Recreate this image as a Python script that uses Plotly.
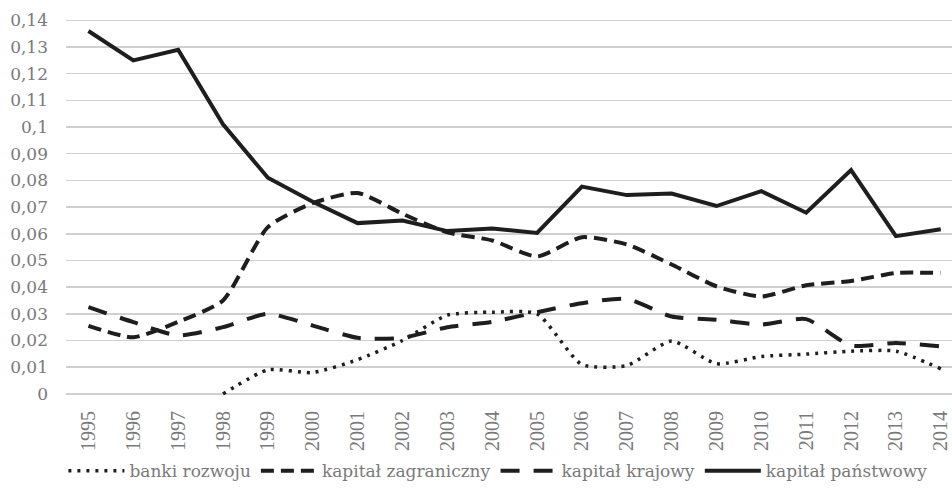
import plotly.graph_objects as go

years = [str(y) for y in range(1995, 2015)]

banki_rozwoju = [None, None, None, 0.0, 0.009, 0.008, 0.0128, 0.020, 0.0295, 0.0306,
                 0.030, 0.011, 0.0106, 0.0198, 0.0113, 0.014, 0.0149, 0.016, 0.016, 0.0094]
kapital_zagraniczny = [0.0255, 0.0212, 0.027, 0.035, 0.0625, 0.0715, 0.0753, 0.0675, 0.0605, 0.0575,
                       0.0515, 0.0587, 0.056, 0.0485, 0.0403, 0.0365, 0.0407, 0.0423, 0.0453, 0.0453]
kapital_krajowy = [0.0325, 0.0269, 0.0219, 0.025, 0.030, 0.0256, 0.021, 0.021, 0.025, 0.027,
                   0.0306, 0.034, 0.0356, 0.029, 0.0278, 0.026, 0.028, 0.0181, 0.0191, 0.0178]
kapital_panstwowy = [0.136, 0.125, 0.129, 0.101, 0.081, 0.072, 0.064, 0.065, 0.061, 0.062,
                     0.0603, 0.0777, 0.0745, 0.0751, 0.0704, 0.076, 0.0679, 0.0839, 0.0591, 0.0617]

y_ticks = [i / 100 for i in range(0, 15)]
y_labels = ["0", "0,01", "0,02", "0,03", "0,04", "0,05", "0,06", "0,07", "0,08", "0,09",
            "0,1", "0,11", "0,12", "0,13", "0,14"]

x_idx = list(range(len(years)))
LINE = "#1e1e1e"
TEXT = "#7a7a7a"
WIDE = "'DejaVu Serif', serif"
TIMES = "'Liberation Serif', 'Times New Roman', serif"

fig = go.Figure()
fig.add_trace(go.Scatter(x=x_idx, y=banki_rozwoju, name="banki rozwoju", mode="lines",
                         line=dict(color=LINE, width=3.5, dash="3px,6px", shape="spline", smoothing=0.6)))
fig.add_trace(go.Scatter(x=x_idx, y=kapital_zagraniczny, name="kapitał zagraniczny", mode="lines",
                         line=dict(color=LINE, width=4, dash="13px,7px", shape="spline", smoothing=0.6)))
fig.add_trace(go.Scatter(x=x_idx, y=kapital_krajowy, name="kapitał krajowy", mode="lines",
                         line=dict(color=LINE, width=4, dash="19px,14px", shape="spline", smoothing=0.6)))
fig.add_trace(go.Scatter(x=x_idx, y=kapital_panstwowy, name="kapitał państwowy", mode="lines",
                         line=dict(color=LINE, width=4)))

fig.update_layout(
    width=952, height=493,
    margin=dict(l=66, r=0, t=19, b=97, autoexpand=False),
    paper_bgcolor="white", plot_bgcolor="white",
    font=dict(family=WIDE, size=17, color=TEXT),
    showlegend=True,
    legend=dict(orientation="h", x=0.523, xref="container", xanchor="center",
                y=0.044, yref="container", yanchor="middle",
                font=dict(family=WIDE, size=17, color=TEXT),
                itemwidth=56, tracegroupgap=0, traceorder="normal"),
)
fig.update_xaxes(range=[-0.5, 19.25], tickvals=x_idx, ticktext=years, tickangle=-90,
                 showgrid=False, zeroline=False, showline=False, ticks="", automargin=False,
                 ticklabelstandoff=10,
                 tickfont=dict(family=TIMES, size=20, color=TEXT), fixedrange=True)
fig.update_yaxes(range=[-0.0008, 0.1405], tickvals=y_ticks, ticktext=y_labels,
                 showgrid=True, gridcolor="#d0d0d0", gridwidth=1.5, zeroline=False, showline=False,
                 ticks="", ticklabelstandoff=17, automargin=False,
                 tickfont=dict(family=WIDE, size=17, color=TEXT), fixedrange=True)

fig.write_html("out.html", config={"displayModeBar": False, "staticPlot": True},
               post_script="document.body.style.margin='0';document.body.style.overflow='hidden';")
